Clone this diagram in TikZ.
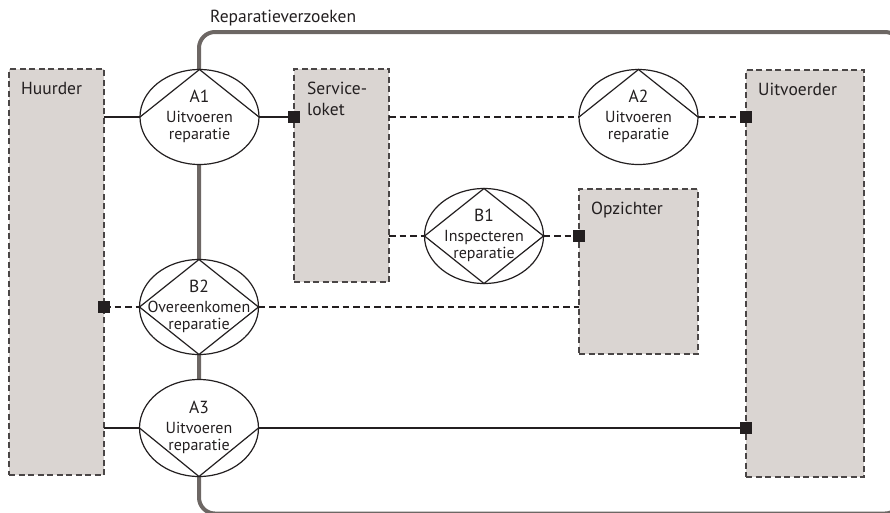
\documentclass[tikz,border=0pt]{standalone}
\usepackage{fontspec}
\setmainfont{PT Sans}
\usetikzlibrary{shapes.geometric}
\definecolor{ink}{HTML}{231F20}
\definecolor{actorfill}{HTML}{DAD5D2}
\definecolor{framegray}{HTML}{6D6764}
\definecolor{boxline}{HTML}{4A4646}
\newcommand\tidfont{\fontsize{17.5}{17}\selectfont}

\begin{document}
\begin{tikzpicture}[x=1pt,y=-1pt,
  actor/.style={rectangle, draw=boxline, fill=actorfill, line width=1.3pt,
    dash pattern=on 6pt off 3.5pt, inner sep=0, outer sep=0},
  actorname/.style={anchor=north west, inner sep=0, text=ink, align=left,
    font=\fontsize{17.5}{21}\selectfont},
  trans/.style={ellipse, draw=ink, fill=white, line width=1.2pt,
    minimum width=119pt, minimum height=95pt, inner sep=0, outer sep=0},
  translabel/.style={anchor=north, align=center, inner sep=0, text=ink,
    font=\fontsize{16}{17}\selectfont},
  facet/.style={draw=ink, line width=1.2pt},
  solidlink/.style={draw=ink, line width=2pt},
  dashlink/.style={draw=ink, line width=1.8pt, dash pattern=on 6.5pt off 4pt},
  port/.style={rectangle, fill=ink, minimum size=12pt, inner sep=0},
  frameline/.style={draw=framegray, line width=4pt, rounded corners=16pt}]

\useasboundingbox (0,0) rectangle (890,512);

% system boundary (runs past the right and bottom edges)
\begin{scope}
\clip (0,0) rectangle (890,512);
\draw[frameline] (199,32) rectangle (901,513.5);
\end{scope}
\node[anchor=base west, inner sep=0, text=ink, font=\fontsize{17.5}{21}\selectfont]
  (boundary) at (210,22) {Reparatieverzoeken};

% actor roles
\node[actor, minimum width=95pt, minimum height=406pt] (huur) at (56.5,272) {};
\node[actor, minimum width=95pt, minimum height=213pt] (svc) at (341.5,175.5) {};
\node[actor, minimum width=119pt, minimum height=165pt] (opz) at (638.5,271.5) {};
\node[actor, minimum width=118pt, minimum height=407pt] (uitv) at (805,273.5) {};

\node[actorname] (huurlbl) at ([shift={(12,13)}]huur.north west) {Huurder};
\node[actorname] (svclbl) at ([shift={(13,13)}]svc.north west) {Service-\\loket};
\node[actorname] (opzlbl) at ([shift={(12,13)}]opz.north west) {Opzichter};
\node[actorname] (uitvlbl) at ([shift={(12,13)}]uitv.north west) {Uitvoerder};

% transactions
\node[trans] (a1) at (199.5,117) {};
\node[trans] (a2) at (638.5,117) {};
\node[trans] (b1) at (484,236) {};
\node[trans] (b2) at (199,307) {};
\node[trans, minimum height=97pt] (a3) at (199,428) {};

\draw[facet] (a1.west) -- (a1.north) -- (a1.east);
\draw[facet] (a2.west) -- (a2.north) -- (a2.east);
\draw[facet] (b1.north) -- (b1.east) -- (b1.south) -- (b1.west) -- cycle;
\draw[facet] (b2.north) -- (b2.east) -- (b2.south) -- (b2.west) -- cycle;
\draw[facet] (a3.west) -- (a3.south) -- (a3.east);

\node[translabel] (a1t) at ([yshift=27.5]a1.center) {{\tidfont A1}\\[3pt]Uitvoeren\\reparatie};
\node[translabel] (a2t) at ([yshift=27.5]a2.center) {{\tidfont A2}\\[3pt]Uitvoeren\\reparatie};
\node[translabel] (b1t) at ([yshift=27.5]b1.center) {{\tidfont B1}\\[3pt]Inspecteren\\reparatie};
\node[translabel] (b2t) at ([yshift=27.5]b2.center) {{\tidfont B2}\\[3pt]Overeenkomen\\reparatie};
\node[translabel] (a3t) at ([yshift=27.5]a3.center) {{\tidfont A3}\\[3pt]Uitvoeren\\reparatie};

% links between actor roles and transactions
\draw[solidlink] (huur.east |- a1.west) -- (a1.west);
\draw[solidlink] (a1.east) -- (svc.west |- a1.east);
\draw[dashlink] (svc.east |- a2.west) -- (a2.west);
\draw[dashlink] (a2.east) -- (uitv.west |- a2.east);
\draw[dashlink] (svc.east |- b1.west) -- (b1.west);
\draw[dashlink] (b1.east) -- (opz.west |- b1.east);
\draw[dashlink] (huur.east |- b2.west) -- (b2.west);
\draw[dashlink] (b2.east) -- (opz.west |- b2.east);
\draw[solidlink] (huur.east |- a3.west) -- (a3.west);
\draw[solidlink] (a3.east) -- (uitv.west |- a3.east);

% executor ports
\node[port] (p1) at (svc.west |- a1.east) {};
\node[port] (p2) at (uitv.west |- a2.east) {};
\node[port] (p3) at (opz.west |- b1.east) {};
\node[port] (p4) at (huur.east |- b2.west) {};
\node[port] (p5) at (uitv.west |- a3.east) {};
\end{tikzpicture}
\end{document}
